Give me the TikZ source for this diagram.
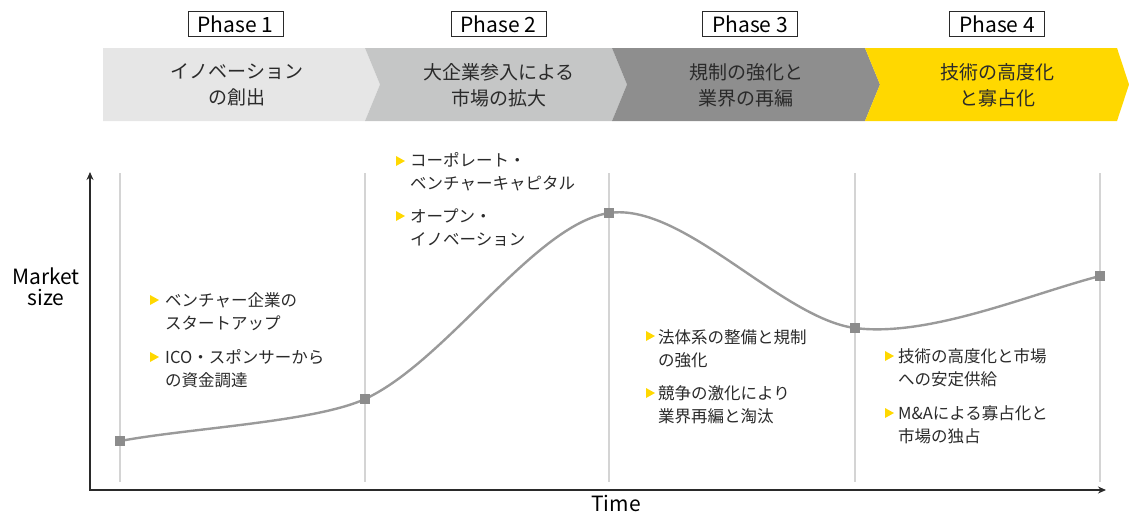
\documentclass[tikz,border=0pt]{standalone}
\usepackage{fontspec}
\setmainfont{Noto Sans CJK JP}
\usetikzlibrary{arrows.meta}
\definecolor{bandA}{HTML}{E6E6E6}
\definecolor{bandB}{HTML}{C5C6C6}
\definecolor{bandC}{HTML}{8E8E8E}
\definecolor{eyY}{HTML}{FFD800}
\definecolor{txt}{HTML}{2A2A2A}
\definecolor{grid}{HTML}{D4D4D4}
\definecolor{curve}{HTML}{9A9A9A}
\definecolor{pt}{HTML}{8C8C8C}
\begin{document}
\begin{tikzpicture}[x=1pt,y=-1pt,
  phasebox/.style={draw=txt,line width=0.8pt,inner sep=0pt,minimum width=95pt,minimum height=25pt,font=\fontsize{21}{24}\selectfont,text=black},
  bandtext/.style={align=center,font=\fontsize{19}{26}\selectfont,text=txt},
  item/.style={anchor=west,align=left,inner sep=0pt,font=\fontsize{16.5}{23}\selectfont,text=txt},
  sq/.style={fill=pt,inner sep=0pt,minimum size=10pt},
  gridline/.style={draw=grid,line width=1.3pt},
  axis/.style={draw=txt,line width=1.3pt,-{Stealth[length=8pt,width=7pt]}},
  lbl/.style={align=center,font=\fontsize{21}{21}\selectfont,text=black}]
\useasboundingbox (0,0) rectangle (1129,512);
% bands
\fill[bandA] (103,48) -- (365,48) -- (380,84.5) -- (365,121) -- (103,121) -- cycle;
\fill[bandB] (365,48) -- (612,48) -- (627,84.5) -- (612,121) -- (365,121) -- (380,84.5) -- cycle;
\fill[bandC] (612,48) -- (865,48) -- (880,84.5) -- (865,121) -- (612,121) -- (627,84.5) -- cycle;
\fill[eyY] (865,48) -- (1117,48) -- (1129,84.5) -- (1117,121) -- (865,121) -- (880,84.5) -- cycle;
\node[bandtext] (b1) at (237,85) {イノベーション\\の創出};
\node[bandtext] (b2) at (499,85) {大企業参入による\\市場の拡大};
\node[bandtext] (b3) at (746,85) {規制の強化と\\業界の再編};
\node[bandtext] (b4) at (997,85) {技術の高度化\\と寡占化};
% phase boxes
\node[phasebox] (ph1) at (235.5,24) {Phase 1};
\node[phasebox] (ph2) at (498.5,24) {Phase 2};
\node[phasebox] (ph3) at (750,24) {Phase 3};
\node[phasebox] (ph4) at (997,24) {Phase 4};
% grid lines
\foreach \x/\n in {120/g1,365/g2,609/g3,855/g4,1100/g5}{
  \coordinate (\n t) at (\x,173);
  \coordinate (\n b) at (\x,482);
  \draw[gridline] (\n t) -- (\n b);
}
% axes
\coordinate (origin) at (90,490);
\coordinate (ytop) at (90,172);
\coordinate (xend) at (1106,490);
\draw[axis] (origin) -- (ytop);
\draw[axis] ([xshift=-0.65pt]origin) -- (xend);
\node[lbl] (ylab) at (46,287) {Market\\size};
\node[lbl] (xlab) at (616,503) {Time};
% curve
\coordinate (p1) at (120,441);
\coordinate (p2) at (365,399);
\coordinate (p3) at (609,213);
\coordinate (p4) at (855,328);
\coordinate (p5) at (1100,276);
\draw[curve,line width=2.4pt]
  (p1) .. controls (190,428) and (315,422) .. (p2)
       .. controls (447,361) and (535,224) .. (p3)
       .. controls (683,202) and (781,318.5) .. (p4)
       .. controls (929,337.5) and (1030,294) .. (p5);
\foreach \p in {p1,p2,p3,p4,p5}{\node[sq] (s\p) at (\p) {};}
% bullets
\newcommand\ytri[2]{\fill[eyY] ({#1-4},{#2-5}) -- ({#1+5},{#2}) -- ({#1-4},{#2+5}) -- cycle;}
\node[item] (i1) at (165,311.5) {ベンチャー企業の\\スタートアップ};
\node[item] (i2) at (165,368.5) {ICO・スポンサーから\\の資金調達};
\ytri{154}{300}\ytri{154}{357}
\node[item] (i3) at (410,172) {コーポレート・\\ベンチャーキャピタル};
\node[item] (i4) at (410,227.5) {オープン・\\イノベーション};
\ytri{400}{161}\ytri{400}{216}
\node[item] (i5) at (658,348.5) {法体系の整備と規制\\の強化};
\node[item] (i6) at (658,405) {競争の激化により\\業界再編と淘汰};
\ytri{650}{336}\ytri{650}{393}
\node[item] (i7) at (898,368) {技術の高度化と市場\\への安定供給};
\node[item] (i8) at (898,424.5) {M\&Aによる寡占化と\\市場の独占};
\ytri{889}{356}\ytri{889}{413}
\end{tikzpicture}
\end{document}
